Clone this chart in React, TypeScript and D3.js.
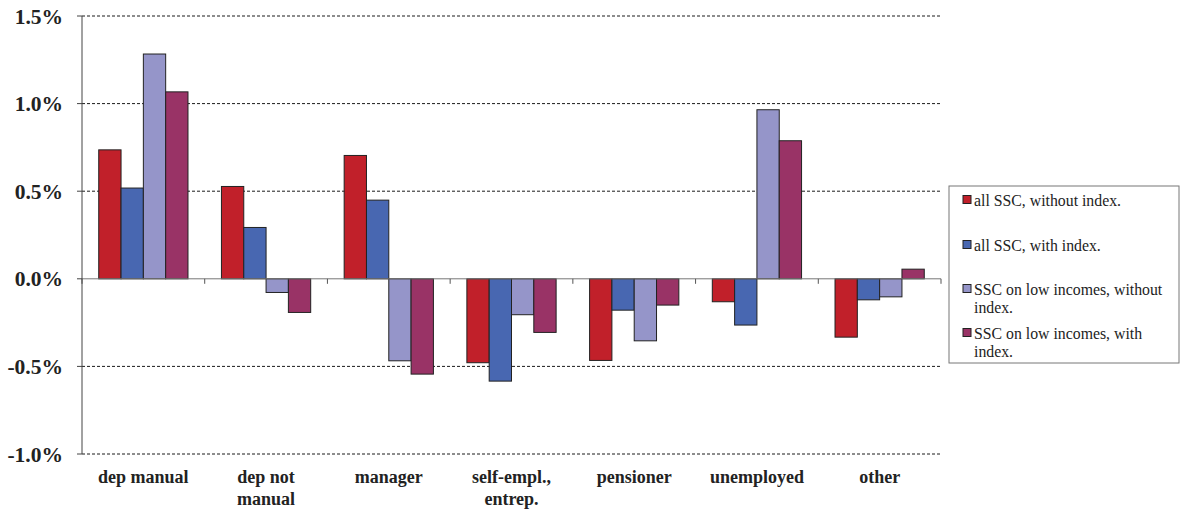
import React from "react";
import * as d3 from "d3";

const categories = [
  ["dep manual"],
  ["dep not", "manual"],
  ["manager"],
  ["self-empl.,", "entrep."],
  ["pensioner"],
  ["unemployed"],
  ["other"],
];
const seriesNames = [
  ["all SSC, without index."],
  ["all SSC, with index."],
  ["SSC on low incomes, without", "index."],
  ["SSC on low incomes, with", "index."],
];
const allWithout = [0.736, 0.527, 0.704, -0.479, -0.466, -0.131, -0.333];
const allWith = [0.518, 0.293, 0.449, -0.584, -0.179, -0.264, -0.12];
const lowWithout = [1.283, -0.078, -0.468, -0.205, -0.354, 0.965, -0.103];
const lowWith = [1.067, -0.192, -0.544, -0.306, -0.15, 0.788, 0.055];
const yTicks = [1.5, 1.0, 0.5, 0.0, -0.5, -1.0];
const colors = ["#C1202A", "#4867B1", "#9595C9", "#993366"];

const series = [allWithout, allWith, lowWithout, lowWith];

export default function App() {
  const W = 1186, H = 512;
  const left = 82, right = 941, top = 16, bottom = 454;
  const x = d3.scaleBand<number>().domain(d3.range(categories.length)).range([left, right]).paddingInner(0).paddingOuter(0);
  const bw = x.bandwidth();
  const groupW = bw / 1.375; // gap 150% of a bar
  const barW = groupW / 4;
  const y = d3.scaleLinear().domain([-1, 1.5]).range([bottom, top]);
  const font = "'Liberation Serif', 'Times New Roman', serif";
  const fmt = d3.format(".1%");

  return (
    <svg width={W} height={H} style={{ position: "absolute", left: 0, top: 0, background: "#fff" }} fontFamily={font}>
      {/* gridlines */}
      {yTicks.filter(t => t !== 0).map(t => (
        <line key={"g" + t} x1={left} x2={right} y1={y(t)} y2={y(t)} stroke="#000" strokeWidth={0.9} strokeDasharray="3,2" />
      ))}
      {/* bars */}
      {categories.map((c, i) => {
        const x0 = (x(i) as number) + (bw - groupW) / 2;
        return series.map((s, k) => {
          const v = s[i];
          const y1 = y(Math.max(0, v));
          const y2 = y(Math.min(0, v));
          return (
            <rect key={`b${i}-${k}`} x={x0 + k * barW} y={y1} width={barW} height={y2 - y1}
              fill={colors[k]} stroke="#222" strokeWidth={1} />
          );
        });
      })}
      {/* zero line */}
      <line x1={left} x2={right} y1={y(0)} y2={y(0)} stroke="#777" strokeWidth={1} />
      {/* category ticks */}
      {d3.range(categories.length + 1).map(i => {
        const xx = i < categories.length ? (x(i) as number) : right;
        return <line key={"ct" + i} x1={xx} x2={xx} y1={y(0)} y2={y(0) + 5} stroke="#555" strokeWidth={1} />;
      })}
      {/* y axis */}
      <line x1={left} x2={left} y1={top} y2={bottom} stroke="#444" strokeWidth={1} />
      {yTicks.map(t => (
        <g key={"yt" + t}>
          <line x1={left - 5} x2={left} y1={y(t)} y2={y(t)} stroke="#444" strokeWidth={1} />
          <text x={63} y={y(t)} dy="0.35em" textAnchor="end" fontWeight="bold" fontSize={21.5} fill="#222">
            {fmt(t / 100).replace("−", "-")}
          </text>
        </g>
      ))}
      {/* category labels */}
      {categories.map((c, i) => (
        <text key={"cl" + i} x={(x(i) as number) + bw / 2} y={483} textAnchor="middle" fontWeight="bold" fontSize={18} fill="#222">
          {c.map((line, j) => (
            <tspan key={j} x={(x(i) as number) + bw / 2} dy={j === 0 ? 0 : 22}>{line}</tspan>
          ))}
        </text>
      ))}
      {/* legend */}
      <rect x={949} y={186} width={230} height={177} fill="#fff" stroke="#777" strokeWidth={1} />
      {seriesNames.map((n, k) => {
        const ys = [200, 245, 289, 333][k];
        return (
          <g key={"lg" + k}>
            <rect x={963} y={ys - 4.5} width={8} height={8} fill={colors[k]} stroke="#222" strokeWidth={1} />
            <text x={974} y={ys} fontSize={15.8} fill="#222">
              {n.map((line, j) => (
                <tspan key={j} x={974} dy={j === 0 ? "0.35em" : 18}>{line}</tspan>
              ))}
            </text>
          </g>
        );
      })}
    </svg>
  );
}
